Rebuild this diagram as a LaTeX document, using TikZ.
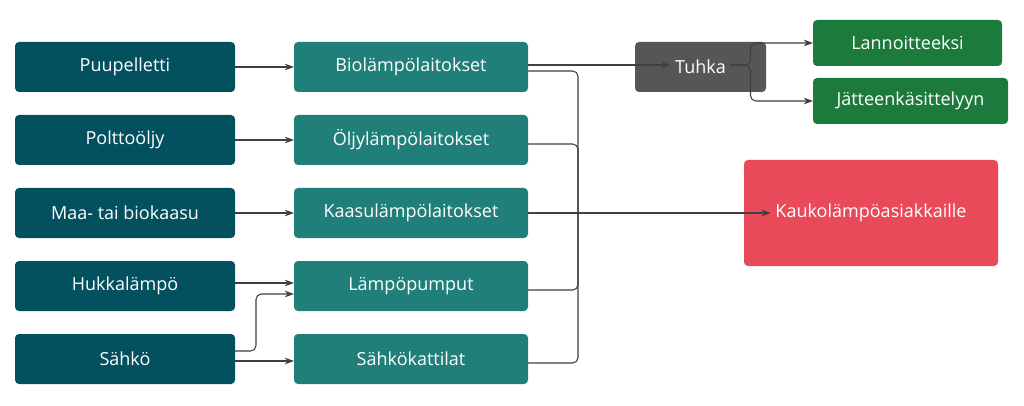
\documentclass[tikz,border=0pt]{standalone}
\usepackage{fontspec}
\setmainfont{Open Sans}
\usetikzlibrary{arrows.meta}
\definecolor{dk}{HTML}{03505F}
\definecolor{md}{HTML}{217F7A}
\definecolor{gr}{HTML}{565656}
\definecolor{gn}{HTML}{1D7A3D}
\definecolor{rd}{HTML}{E84A5A}
\definecolor{ln}{HTML}{404040}
\begin{document}
\begin{tikzpicture}[x=0.75pt,y=-0.75pt,
  bx/.style={rounded corners=3pt,text=white,font=\fontsize{13.5}{16}\selectfont},
  ar/.style={draw=ln,line width=0.8pt,-{Stealth[length=7pt,width=5pt]}},
  ln/.style={draw=ln,line width=0.8pt,rounded corners=4pt}]
\fill[white] (0,0) rectangle (1024,406);
\useasboundingbox (0,0) rectangle (1024,406);
\def\bx#1#2#3#4#5#6#7{\fill[#6,rounded corners=3pt] (#2,#3) rectangle (#4,#5);
  \node[bx] (#1) at ({(#2+#4)/2},{(#3+#5)/2}) {#7};
  \coordinate (#1l) at (#2,{(#3+#5)/2}); \coordinate (#1r) at (#4,{(#3+#5)/2});}
\bx{a1}{15}{42}{235}{92}{dk}{Puupelletti}
\bx{a2}{15}{115}{235}{165}{dk}{Polttoöljy}
\bx{a3}{15}{188}{235}{238}{dk}{Maa- tai biokaasu}
\bx{a4}{15}{261}{235}{311}{dk}{Hukkalämpö}
\bx{a5}{15}{334}{235}{384}{dk}{Sähkö}
\bx{b1}{294}{42}{528}{92}{md}{Biolämpölaitokset}
\bx{b2}{294}{115}{528}{165}{md}{Öljylämpölaitokset}
\bx{b3}{294}{188}{528}{238}{md}{Kaasulämpölaitokset}
\bx{b4}{294}{261}{528}{311}{md}{Lämpöpumput}
\bx{b5}{294}{334}{528}{384}{md}{Sähkökattilat}
\bx{t}{635}{42}{766}{92}{gr}{Tuhka}
\bx{g1}{813}{20}{1002}{66}{gn}{Lannoitteeksi}
\bx{g2}{813}{78}{1008}{124}{gn}{Jätteenkäsittelyyn}
\bx{k}{744}{160}{998}{266}{rd}{Kaukolämpöasiakkaille}
\draw[ar] (a1r) -- (b1l|-a1r);
\draw[ar] (a2r) -- (b2l);
\draw[ar] (a3r) -- (b3l);
\draw[ar] ([yshift=2.25pt]a4r) -- ([yshift=2.25pt]b4l);
\draw[ar] ([yshift=-1.5pt]a5r) -- ([yshift=-1.5pt]b5l);
\draw[ar,rounded corners=4pt] ([yshift=6pt]a5r) -- ++(21,0) |- ([yshift=-6pt]b4l);
\draw[ar] ([yshift=1.5pt]b1r) -- ([yshift=1.5pt]t.west|-b1r);
\coordinate (m) at (578,213);
\draw[ln] ([yshift=-3pt]b1r) -| (m);
\draw[ln] ([yshift=-3pt]b2r) -| (m);
\draw[ln] ([yshift=-3pt]b4r) -| (m);
\draw[ln] ([yshift=-3pt]b5r) -| (m);
\draw[ar] (b3r) -- (k.west|-b3r);
\draw[ar,rounded corners=4pt] ([yshift=1.5pt]t.east|-b1r) -- ++(20,0) |- (g1l);
\draw[ar,rounded corners=4pt] ([yshift=1.5pt]t.east|-b1r) -- ++(20,0) |- (g2l);
\end{tikzpicture}
\end{document}
